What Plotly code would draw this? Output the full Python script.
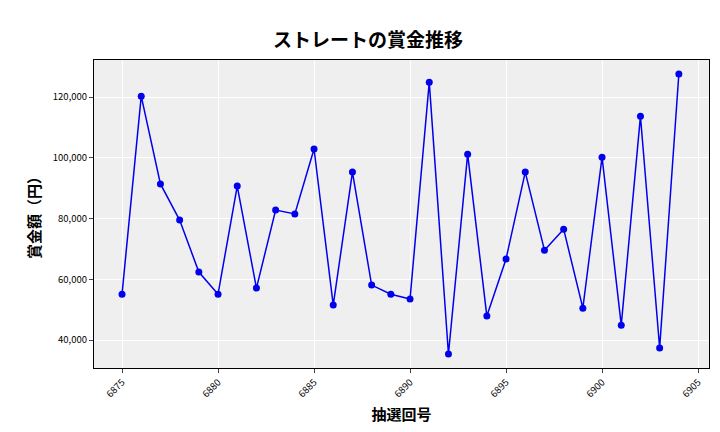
import plotly.graph_objects as go

draws = list(range(6875, 6905))
prizes = [55100, 120300, 91400, 79500, 62400, 55100, 90700, 57100, 82800, 81500,
          102900, 51500, 95300, 58100, 55100, 53500, 124900, 35400, 101200, 47900,
          66700, 95300, 69600, 76500, 50500, 100200, 44900, 113700, 37400, 127600]
xticks = [6875, 6880, 6885, 6890, 6895, 6900, 6905]
yticks = [40000, 60000, 80000, 100000, 120000]

font = "Noto Sans CJK JP"
fig = go.Figure(go.Scatter(x=draws, y=prizes, mode="lines+markers",
                           line=dict(color="#0000ee", width=1.5),
                           marker=dict(color="#0000ee", size=7)))
fig.update_layout(
    width=720, height=432, margin=dict(l=86, r=19, t=52, b=72, autoexpand=False),
    paper_bgcolor="white", plot_bgcolor="#efefef",
    title=dict(text="<b>ストレートの賞金推移</b>", x=0.5, xanchor="center", y=0.94,
               font=dict(family=font, size=19, color="black")),
    showlegend=False, font=dict(family=font, color="black"),
)
fig.update_xaxes(range=[6873.54, 6905.57], tickvals=xticks, tickangle=-45,
                 tickfont=dict(size=9.5), gridcolor="white", showline=True, mirror=True,
                 linecolor="black", ticks="outside", ticklen=4, automargin=False,
                 title=dict(text="<b>抽選回号</b>", font=dict(size=15), standoff=10), zeroline=False)
fig.update_yaxes(range=[30800, 132200], tickvals=yticks, tickformat=",",
                 tickfont=dict(size=9.5), gridcolor="white", showline=True, mirror=True,
                 linecolor="black", ticks="outside", ticklen=4, automargin=False,
                 title=dict(text="<b>賞金額（円）</b>", font=dict(size=15), standoff=8), zeroline=False)
fig.write_html("out.html")
